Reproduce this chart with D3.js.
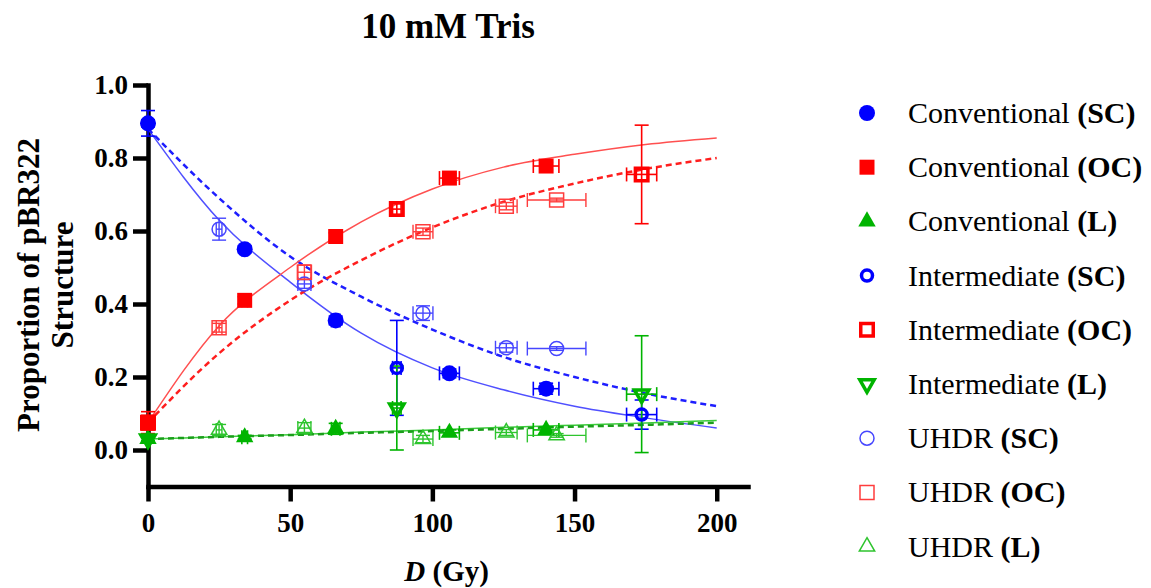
<!DOCTYPE html>
<html>
<head>
<meta charset="utf-8">
<script src="https://cdn.jsdelivr.net/npm/d3@7"></script>
<style>
  body { margin: 0; background: #fff; }
  text { font-family: "Liberation Serif", "Times New Roman", serif; }
</style>
</head>
<body>
<div id="chart"></div>
<script>
// ---- data ----
const convX = [0, 34, 66, 106, 140];
const convXErr = [0, 1, 1.5, 3.5, 4.5];
const convSC = [0.895, 0.55, 0.355, 0.21, 0.168];
const convSCErr = [0.01, 0.01, 0.012, 0.012, 0.015];
const convOC = [0.075, 0.41, 0.585, 0.745, 0.778];
const convOCErr = [0.03, 0.01, 0.01, 0.012, 0.01];
const convL = [0.03, 0.035, 0.058, 0.047, 0.055];
const convLErr = [0.005, 0.005, 0.015, 0.008, 0.008];

const intX = [0, 87.5, 173.6];
const intXErr = [0, 1.5, 5.3];
const intSC = [0.895, 0.225, 0.097];
const intSCErr = [0.035, 0.13, 0.04];
const intOC = [0.075, 0.66, 0.755];
const intOCErr = [0.02, 0.015, 0.135];
const intL = [0.03, 0.115, 0.153];
const intLErr = [0.005, 0.115, 0.16];

const uhdrX = [25, 55, 96.7, 126, 143.7];
const uhdrXErr = [1, 2.3, 3.5, 3.8, 10.3];
const uhdrSC = [0.605, 0.455, 0.375, 0.28, 0.278];
const uhdrSCErr = [0.03, 0.012, 0.02, 0.012, 0.005];
const uhdrOC = [0.335, 0.487, 0.598, 0.668, 0.685];
const uhdrOCErr = [0.012, 0.02, 0.01, 0.01, 0.005];
const uhdrL = [0.055, 0.06, 0.03, 0.048, 0.04];
const uhdrLErr = [0.015, 0.015, 0.01, 0.008, 0.005];

// fitted curves, sampled from the figure
const fitX = [0, 25, 50, 75, 100, 125, 150, 175, 200];
const fitConvSC = [0.88, 0.63, 0.46, 0.32, 0.225, 0.165, 0.12, 0.088, 0.06];
const fitUhdrSC = [0.88, 0.69, 0.53, 0.42, 0.33, 0.255, 0.2, 0.155, 0.12];
const fitConvOC = [0.075, 0.34, 0.5, 0.625, 0.715, 0.775, 0.81, 0.837, 0.855];
const fitUhdrOC = [0.075, 0.265, 0.41, 0.52, 0.61, 0.68, 0.73, 0.77, 0.8];
const fitConvL = [0.03, 0.036, 0.042, 0.049, 0.055, 0.062, 0.068, 0.074, 0.081];
const fitUhdrL = [0.03, 0.036, 0.041, 0.047, 0.052, 0.058, 0.064, 0.069, 0.075];

const xTicks = [0, 50, 100, 150, 200];
const yTicks = [0, 0.2, 0.4, 0.6, 0.8, 1.0];

const legendLabels = [
  ["Conventional ", "(SC)"], ["Conventional ", "(OC)"], ["Conventional ", "(L)"],
  ["Intermediate ", "(SC)"], ["Intermediate ", "(OC)"], ["Intermediate ", "(L)"],
  ["UHDR ", "(SC)"], ["UHDR ", "(OC)"], ["UHDR ", "(L)"]
];

// ---- styles ----
const BLUE = "#0000ff", RED = "#ff0000", GREEN = "#00b400";
const LBLUE = "#4646ff", LRED = "#ff3c3c", LGREEN = "#2ec42e";

const series = [
  { x: convX, xe: convXErr, y: convSC, ye: convSCErr, shape: "circle", style: "fill", color: BLUE },
  { x: convX, xe: convXErr, y: convOC, ye: convOCErr, shape: "square", style: "fill", color: RED },
  { x: convX, xe: convXErr, y: convL, ye: convLErr, shape: "triangle", style: "fill", color: GREEN },
  { x: intX, xe: intXErr, y: intSC, ye: intSCErr, shape: "circle", style: "thick", color: BLUE },
  { x: intX, xe: intXErr, y: intOC, ye: intOCErr, shape: "square", style: "thick", color: RED },
  { x: intX, xe: intXErr, y: intL, ye: intLErr, shape: "triangleDown", style: "thick", color: GREEN },
  { x: uhdrX, xe: uhdrXErr, y: uhdrSC, ye: uhdrSCErr, shape: "circle", style: "thin", color: LBLUE },
  { x: uhdrX, xe: uhdrXErr, y: uhdrOC, ye: uhdrOCErr, shape: "square", style: "thin", color: LRED },
  { x: uhdrX, xe: uhdrXErr, y: uhdrL, ye: uhdrLErr, shape: "triangle", style: "thin", color: LGREEN }
];

const fits = [
  { y: fitConvSC, color: "#5050ff", dash: null, w: 1.5 },
  { y: fitUhdrSC, color: "#1e1eff", dash: "6,4", w: 2.5 },
  { y: fitConvOC, color: "#ff5050", dash: null, w: 1.5 },
  { y: fitUhdrOC, color: "#ff1e1e", dash: "6,4", w: 2.5 },
  { y: fitConvL, color: "#3ccc3c", dash: null, w: 1.5 },
  { y: fitUhdrL, color: "#1a9e1a", dash: "6,4", w: 2.5 }
];

const width = 1151, height = 588;

const svg = d3.select("#chart").append("svg")
  .attr("width", width)
  .attr("height", height);

const x = d3.scaleLinear().domain([0, 211]).range([148, 748]);
const y = d3.scaleLinear().domain([-0.1, 1]).range([486.5, 85]);

// title
svg.append("text")
  .attr("x", 448).attr("y", 38)
  .attr("text-anchor", "middle")
  .attr("font-size", 35).attr("font-weight", "bold")
  .text("10 mM Tris");

// axes
const yAxis = svg.append("g")
  .attr("transform", `translate(${x(0)},0)`)
  .call(d3.axisLeft(y).tickValues(yTicks).tickSize(15).tickSizeOuter(0).tickFormat(d3.format(".1f")));

const xAxis = svg.append("g")
  .attr("transform", `translate(0,${y(-0.1)})`)
  .call(d3.axisBottom(x).tickValues(xTicks).tickSize(15).tickSizeOuter(0));

[yAxis, xAxis].forEach(a => {
  a.select(".domain").attr("stroke", "#000").attr("stroke-width", 4.5).attr("stroke-linecap", "square");
  a.selectAll(".tick line").attr("stroke", "#000").attr("stroke-width", 4.5);
  a.selectAll(".tick text")
    .attr("font-family", "Liberation Serif, serif")
    .attr("font-size", 27).attr("font-weight", "bold").attr("fill", "#000");
});
yAxis.selectAll(".tick text").attr("x", -20);
xAxis.selectAll(".tick text").attr("y", 26);

// axis titles
const yl = svg.append("text")
  .attr("transform", "translate(0,285) rotate(-90)")
  .attr("text-anchor", "middle")
  .attr("font-size", 31).attr("font-weight", "bold");
yl.append("tspan").attr("x", 0).attr("y", 39).text("Proportion of pBR322");
yl.append("tspan").attr("x", 0).attr("y", 73).text("Structure");

const xl = svg.append("text")
  .attr("x", x(105)).attr("y", 581)
  .attr("text-anchor", "middle")
  .attr("font-size", 29).attr("font-weight", "bold");
xl.append("tspan").attr("font-style", "italic").text("D");
xl.append("tspan").text(" (Gy)");

// fitted curves
const plot = svg.append("g");
const line = d3.line()
  .x((d, i) => x(fitX[i]))
  .y(d => y(d))
  .curve(d3.curveMonotoneX);

plot.selectAll(".fit")
  .data(fits)
  .enter().append("path")
  .attr("class", "fit")
  .attr("fill", "none")
  .attr("stroke", d => d.color)
  .attr("stroke-width", d => d.w)
  .attr("stroke-dasharray", d => d.dash)
  .attr("d", d => line(d.y));

// markers
function symbolPath(shape, px) {
  if (shape === "circle") return d3.symbol(d3.symbolCircle, Math.PI * px * px / 4)();
  if (shape === "square") return d3.symbol(d3.symbolSquare, px * px)();
  return d3.symbol(d3.symbolTriangle, Math.sqrt(3) / 4 * px * px * 1.05)();
}

function drawMarker(sel, s, cx, cy) {
  const g = sel.append("g")
    .attr("transform", `translate(${cx},${cy})` + (s.shape === "triangleDown" ? " rotate(180)" : ""));
  let size, sw;
  if (s.style === "fill") { size = s.shape === "circle" ? 16 : (s.shape === "square" ? 15 : 17); sw = 0; }
  else if (s.style === "thick") { size = s.shape === "circle" ? 11 : (s.shape === "square" ? 12.5 : 14); sw = 3.5; }
  else { size = s.shape === "circle" ? 14 : (s.shape === "square" ? 14 : 15); sw = 1.5; }
  g.append("path")
    .attr("d", symbolPath(s.shape, size))
    .attr("fill", s.style === "fill" ? s.color : "none")
    .attr("stroke", s.style === "fill" ? "none" : s.color)
    .attr("stroke-width", sw);
}

const cap = 7;
series.forEach(s => {
  const g = plot.append("g");
  const lw = s.style === "thin" ? 1.4 : 1.6;
  s.x.forEach((xv, i) => {
    const cx = x(xv), cy = y(s.y[i]);
    const ye = s.ye[i], xe = s.xe[i];
    if (ye > 0) {
      const y1 = y(s.y[i] + ye), y2 = y(s.y[i] - ye);
      g.append("line").attr("x1", cx).attr("x2", cx).attr("y1", y1).attr("y2", y2)
        .attr("stroke", s.color).attr("stroke-width", lw);
      [y1, y2].forEach(yy => g.append("line")
        .attr("x1", cx - cap).attr("x2", cx + cap).attr("y1", yy).attr("y2", yy)
        .attr("stroke", s.color).attr("stroke-width", lw));
    }
    if (xe > 0) {
      const x1 = x(xv - xe), x2 = x(xv + xe);
      g.append("line").attr("x1", x1).attr("x2", x2).attr("y1", cy).attr("y2", cy)
        .attr("stroke", s.color).attr("stroke-width", lw);
      [x1, x2].forEach(xx => g.append("line")
        .attr("x1", xx).attr("x2", xx).attr("y1", cy - cap).attr("y2", cy + cap)
        .attr("stroke", s.color).attr("stroke-width", lw));
    }
  });
});
series.forEach(s => {
  s.x.forEach((xv, i) => drawMarker(plot, s, x(xv), y(s.y[i])));
});

// legend
const legend = svg.append("g");
legendLabels.forEach((lab, i) => {
  const ly = 113 + i * 54.2;
  drawMarker(legend, series[i], 867, ly);
  const t = legend.append("text")
    .attr("x", 908).attr("y", ly + 10)
    .attr("font-size", 30);
  t.append("tspan").text(lab[0]);
  t.append("tspan").attr("font-weight", "bold").text(lab[1]);
});
</script>
</body>
</html>
